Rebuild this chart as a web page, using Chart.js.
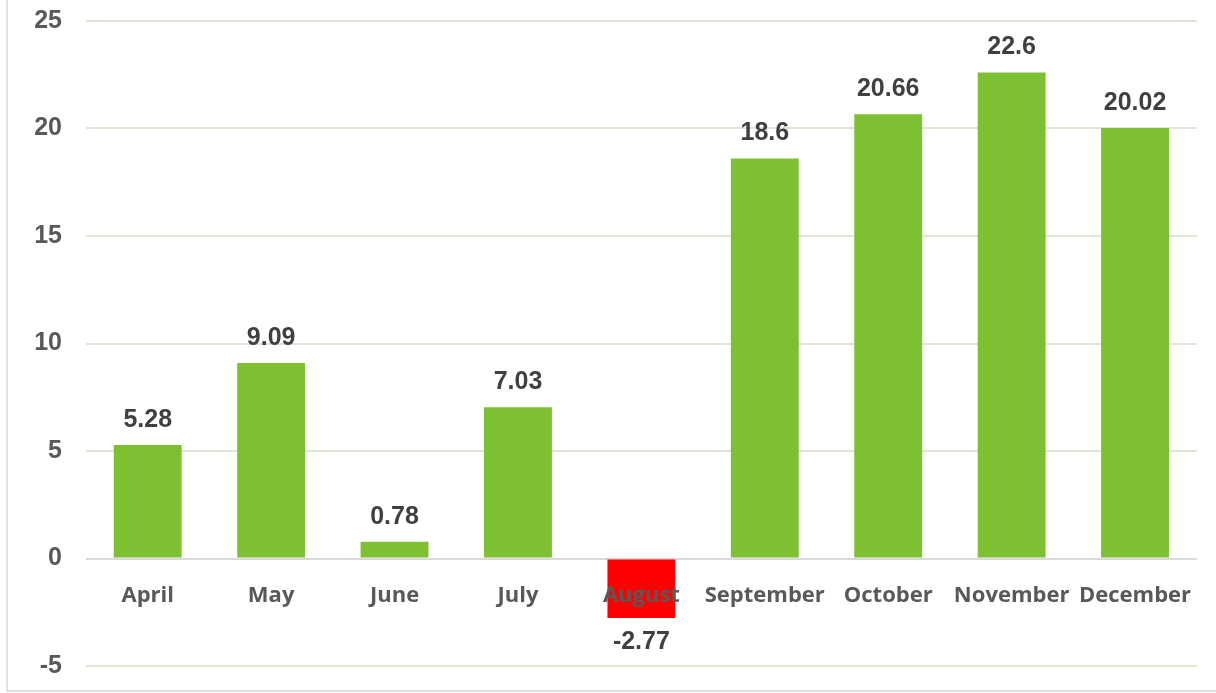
<!DOCTYPE html>
<html>
<head>
<meta charset="utf-8">
<script src="https://cdn.jsdelivr.net/npm/chart.js@4.4.0/dist/chart.umd.min.js"></script>
<style>
  html, body { margin: 0; padding: 0; background: #fff; }
  #wrap { width: 1216px; height: 693px; }
</style>
</head>
<body>
<div id="wrap"><canvas id="chart" width="1216" height="693"></canvas></div>
<script>
// ===== Dados =====
const months = ["April", "May", "June", "July", "August", "September", "October", "November", "December"];
const values = [5.28, 9.09, 0.78, 7.03, -2.77, 18.6, 20.66, 22.6, 20.02];
const yTicks = [-5, 0, 5, 10, 15, 20, 25];

const barColors = values.map(v => v < 0 ? "#ff0000" : "#7dc032");

// ===== Moldura (esquerda e base) =====
const framePlugin = {
  id: "frame",
  beforeDraw(chart) {
    const ctx = chart.ctx;
    ctx.save();
    ctx.strokeStyle = "#d9d9d9";
    ctx.lineWidth = 1.5;
    ctx.beginPath();
    ctx.moveTo(7, 0);
    ctx.lineTo(7, 691);
    ctx.lineTo(1216, 691);
    ctx.stroke();
    ctx.restore();
  }
};

// ===== Rótulos de valor =====
const valueLabels = {
  id: "valueLabels",
  afterDatasetsDraw(chart) {
    const ctx = chart.ctx;
    const meta = chart.getDatasetMeta(0);
    ctx.save();
    ctx.font = "bold 25px 'Liberation Sans', Arial, sans-serif";
    ctx.fillStyle = "#404040";
    ctx.textAlign = "center";
    ctx.textBaseline = "middle";
    meta.data.forEach((bar, i) => {
      const v = values[i];
      const y = v >= 0 ? bar.y - 25 : bar.y + 24;
      ctx.fillText(String(v), bar.x, y);
    });
    ctx.restore();
  }
};

new Chart(document.getElementById("chart"), {
  type: "bar",
  data: {
    labels: months,
    datasets: [{
      data: values,
      backgroundColor: barColors,
      borderWidth: 0,
      barPercentage: 0.55,
      categoryPercentage: 1
    }]
  },
  options: {
    responsive: false,
    animation: false,
    layout: { padding: { top: 21, right: 16, bottom: 27, left: 0 } },
    plugins: { legend: { display: false }, tooltip: { enabled: false } },
    scales: {
      x: {
        position: { y: 0 },
        grid: { display: false, drawTicks: false },
        border: { display: false },
        ticks: {
          z: 1,
          padding: 24,
          maxRotation: 0,
          minRotation: 0,
          autoSkip: false,
          color: "#595959",
          font: { family: "'Open Sans', sans-serif", weight: "bold", size: 22 }
        }
      },
      y: {
        min: -5,
        max: 25,
        afterFit: s => { s.width = 86; s.paddingTop = 0; s.paddingBottom = 0; },
        afterBuildTicks: s => { s.ticks = yTicks.map(v => ({ value: v })); },
        border: { display: false },
        grid: {
          drawTicks: false,
          lineWidth: 2,
          color: c => c.tick && c.tick.value === 0 ? "#d9d9d9" : "#e0e6d6"
        },
        ticks: {
          padding: 24,
          color: "#595959",
          font: { family: "'Liberation Sans', Arial, sans-serif", weight: "bold", size: 25 }
        }
      }
    }
  },
  plugins: [framePlugin, valueLabels]
});
</script>
</body>
</html>
